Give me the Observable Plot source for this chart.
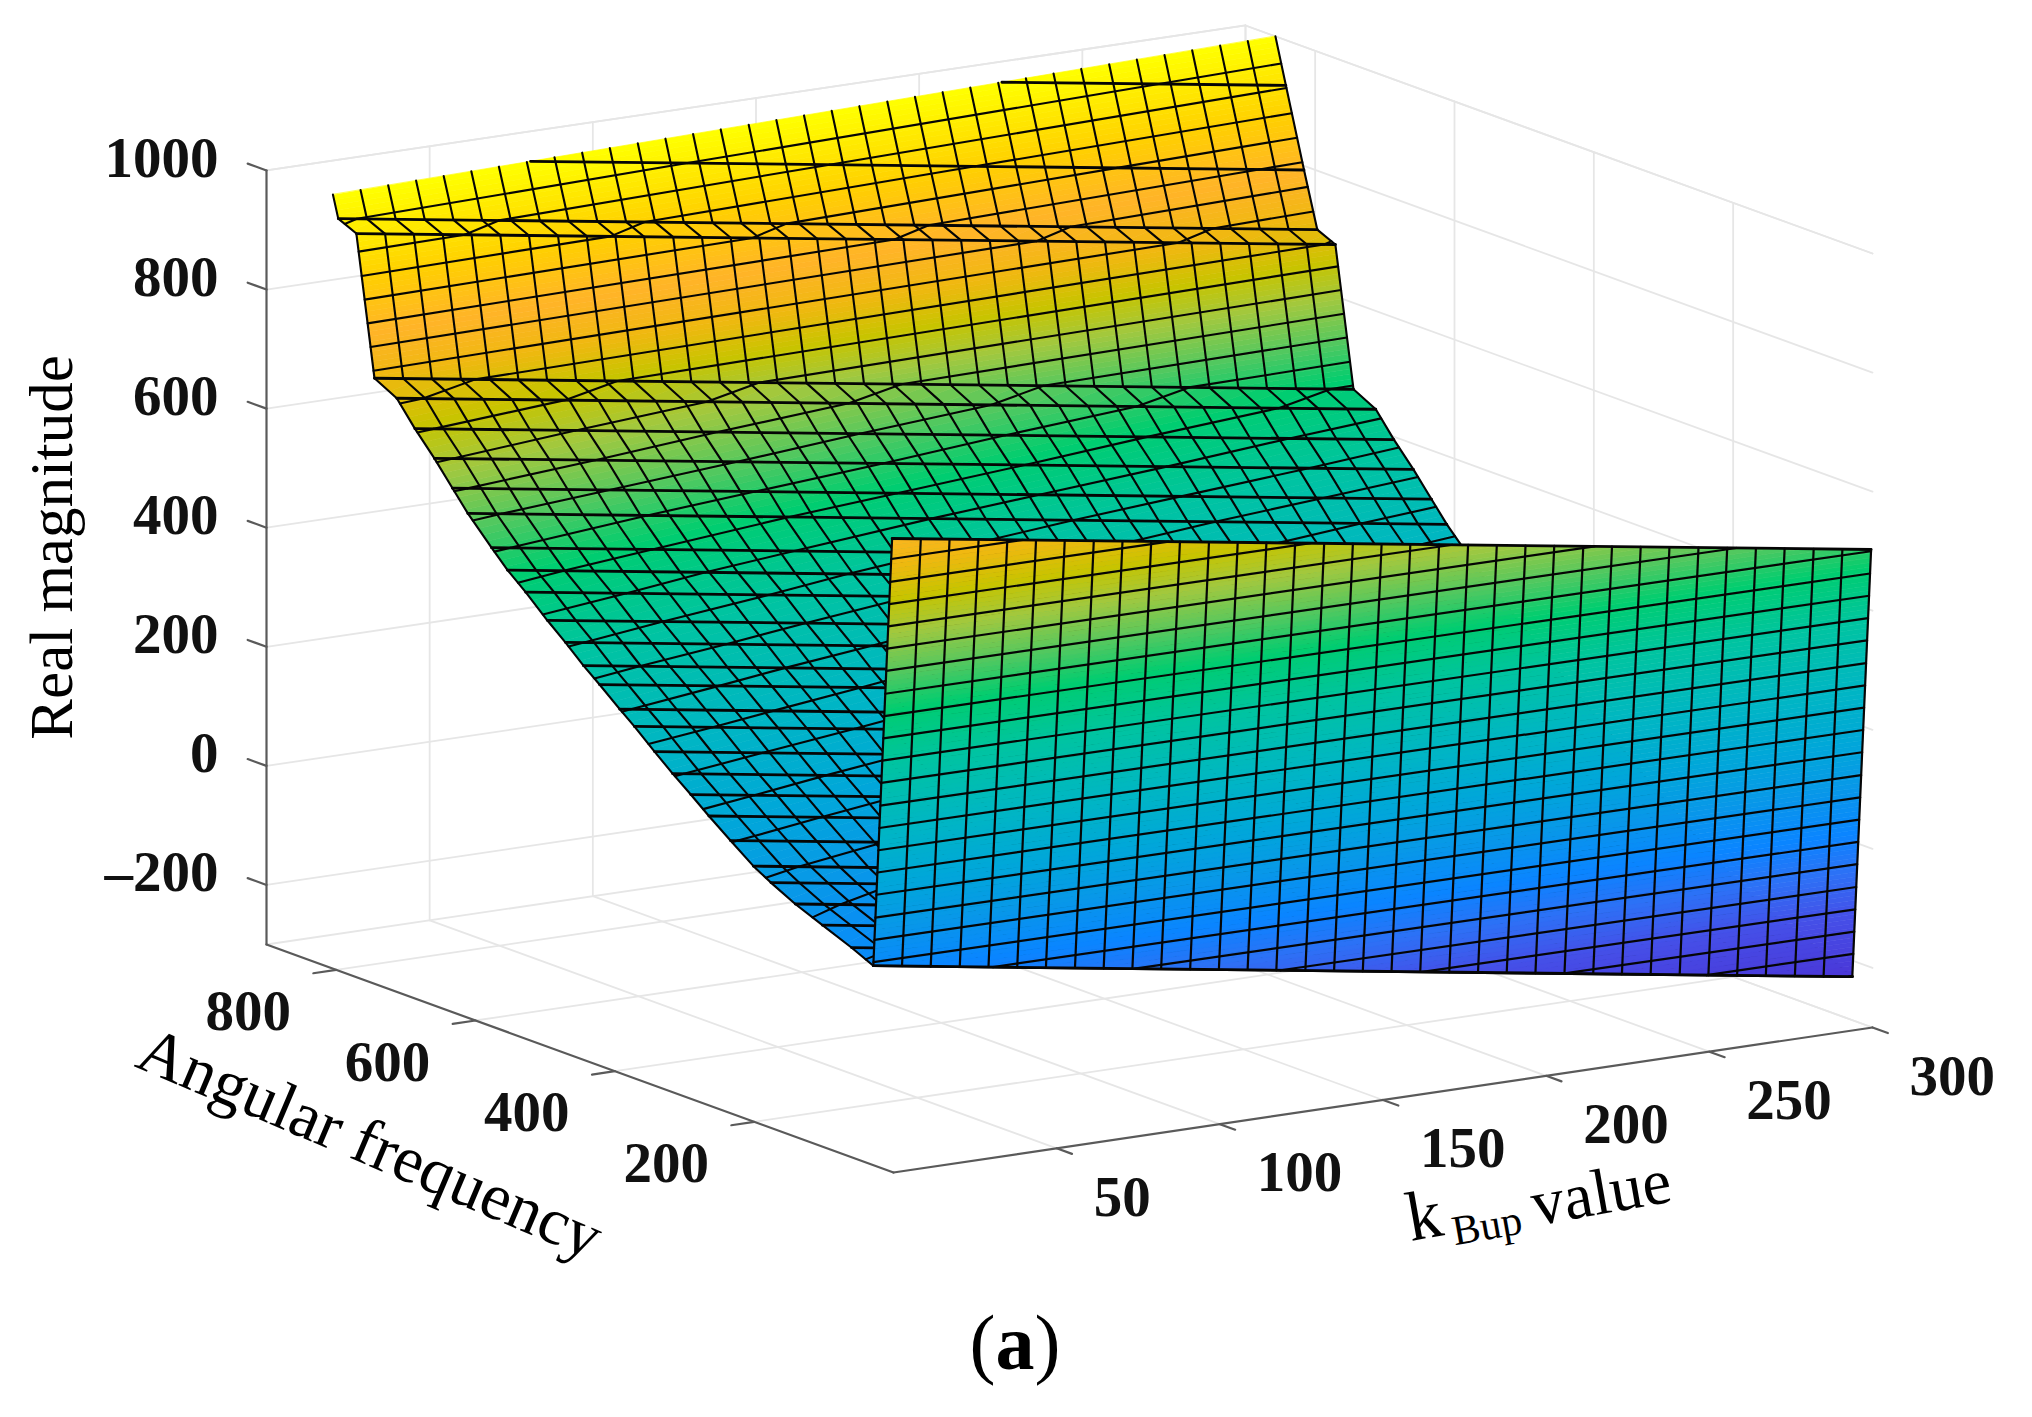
<!DOCTYPE html>
<html><head><meta charset="utf-8">
<script src="https://cdn.jsdelivr.net/npm/d3@7"></script>
<script src="https://cdn.jsdelivr.net/npm/@observablehq/plot@0.6"></script>
<style>
html,body{margin:0;background:#fff}
#chart{position:relative;width:2032px;height:1417px;overflow:hidden}
#chart svg{display:block;background:#fff}
#cap{position:absolute;left:0;width:2030px;top:1301px;text-align:center;font:78px "Liberation Serif",serif;color:#000;line-height:84px}
</style></head><body>
<div id="chart"><div id="cap">(<b>a</b>)</div></div>
<script>
// Tick values
const kTicks = [50,100,150,200,250,300];
const wTicks = [200,400,600,800];
const zTicks = [-200,0,200,400,600,800,1000];
const zTickText = ["\u2013200","0","200","400","600","800","1000"];
const kLimits = [0,300], wLimits = [0,900], zLimits = [-300,1000];

// Mesh: k columns
const kColumns = [0,8.8,17.6,26.5,35.3,44.1,52.9,61.8,70.6,79.4,88.2,97.1,105.9,114.7,123.5,132.4,141.2,150,158.8,167.6,176.5,185.3,194.1,202.9,211.8,220.6,229.4,238.2,247.1,255.9,264.7,273.5,282.4,291.2,300];
// Surface rows: angular frequency and magnitude at k = 0
const wRows = [860,842,816,797,771,745,713,687,659,633,611,577,554,528,497,471,445,422,393,372,343,317,291,265,234,201,176,141,102,60,29];
const zRows = [1277,1186,1055,963,949,717,697,657,619,580,547,504,476,450,416,390,362,340,311,291,261,235,211,186,158,129,112,91,72,52,35];
// Low-frequency wall
const wWall = [29,2];
const zWall = [35,764];
// Fall of the magnitude from k = 0 to k = 300 on every row
const zFall = 262;
// Constant-magnitude mesh lines
const zContours = [1000,958,920,881,843,805,767,729,690,652,614,576,538,499,461,423,385,347,308,270,232,194,156,117,79,41,3,-35,-74,-112,-150,-188,-226];

// Colour map
const colorDomain = [-300,-220,-120,-50,20,100,180,280,380,470,530,600,660,720,790,880,960,1000];
const colorRange = ["#4a30c8","#4a38d8","#4550e8","#2e70f5","#0a85ff","#0898e8","#00a8d8","#00b8c0","#00c4a0","#00cd70","#50c860","#a0c840","#c8c400","#f0b810","#ffb428","#ffd000","#fff000","#ffff00"];

// Camera of the 3-D box
const cam = {x0:893,y0:1172,kx:979/300,ky:-145/300,wx:-627/900,wy:-228/900,zy:-0.5954};
const proj = (k,w,z) => [cam.x0+cam.kx*k+cam.wx*w, cam.y0+cam.ky*k+cam.wy*w+cam.zy*(z-zLimits[0])];
const P = (k,w,z,extra={}) => { const [x,y]=proj(k,w,z); return {x,y,...extra}; };

const zAt = (z0,k) => z0 - zFall*k/300;
const lerpV = (a,b,t) => ({k:a.k+(b.k-a.k)*t,w:a.w+(b.w-a.w)*t,z:a.z+(b.z-a.z)*t});
function clipPoly(poly,level,keepBelow){
  const out=[];
  poly.forEach((a,i)=>{
    const b=poly[(i+1)%poly.length];
    const ina=keepBelow? a.z<=level : a.z>=level;
    const inb=keepBelow? b.z<=level : b.z>=level;
    if(ina) out.push(a);
    if(ina!==inb) out.push(lerpV(a,b,(level-a.z)/(b.z-a.z)));
  });
  return out;
}
function clipSeg(a,b,top){
  if(a.z>top&&b.z>top) return null;
  if(a.z>top) a=lerpV(a,b,(top-a.z)/(b.z-a.z));
  if(b.z>top) b=lerpV(a,b,(top-a.z)/(b.z-a.z));
  return [a,b];
}
function build(ws,zs){
  const fills=[],lines=[];
  let id=0;
  const top=zLimits[1];
  const seg=(a,b,wgt)=>{const s=clipSeg(a,b,top); if(s){const g=id++; s.forEach(v=>lines.push(P(v.k,v.w,v.z,{g,wgt})));}};
  for(let i=0;i<ws.length;i++){
    seg({k:0,w:ws[i],z:zs[i]},{k:300,w:ws[i],z:zAt(zs[i],300)},"row");
  }
  for(let i=0;i+1<ws.length;i++){
    const corners=[{k:0,w:ws[i],z:zs[i]},{k:300,w:ws[i],z:zAt(zs[i],300)},{k:300,w:ws[i+1],z:zAt(zs[i+1],300)},{k:0,w:ws[i+1],z:zs[i+1]}];
    const poly=clipPoly(corners,top,true);
    if(poly.length<3) continue;
    const lo=d3.min(poly,d=>d.z),hi=d3.max(poly,d=>d.z);
    for(let b=Math.floor(lo/8)*8;b<hi;b+=8){
      const p=clipPoly(clipPoly(poly,b+8,true),b,false);
      if(p.length<3) continue;
      const ring=p.map(v=>proj(v.k,v.w,v.z));
      ring.push(ring[0]);
      fills.push({type:"Feature",properties:{z:b+4},geometry:{type:"Polygon",coordinates:[ring]}});
    }
    for(const kc of kColumns){
      seg({k:kc,w:ws[i],z:zAt(zs[i],kc)},{k:kc,w:ws[i+1],z:zAt(zs[i+1],kc)},"col");
    }
    for(const lv of zContours){
      const c=[];
      poly.forEach((a,j)=>{const e=poly[(j+1)%poly.length];
        if((a.z-lv)*(e.z-lv)<0||(a.z===lv&&e.z!==lv)) c.push(lerpV(a,e,(lv-a.z)/(e.z-a.z)));});
      if(c.length>=2){const g=id++; [c[0],c[1]].forEach(v=>lines.push(P(v.k,v.w,v.z,{g,wgt:"col"})));}
    }
  }
  return {fills,lines};
}
const back=build(wRows,zRows);
const wall=build(wWall,zWall);

// Grid and axes
const grid=[]; let gid=0;
const gl=(a,b)=>{const g=gid++; grid.push(P(...a,{g}),P(...b,{g}));};
const [k0,k1]=kLimits,[w0,w1]=wLimits,[z0,z1]=zLimits;
for(const k of kTicks){gl([k,w0,z0],[k,w1,z0]);gl([k,w1,z0],[k,w1,z1]);}
for(const w of wTicks){gl([k0,w,z0],[k1,w,z0]);gl([k1,w,z0],[k1,w,z1]);}
for(const z of zTicks){gl([k0,w1,z],[k1,w1,z]);gl([k1,w1,z],[k1,w0,z]);}
gl([k0,w1,z1],[k1,w1,z1]);gl([k1,w1,z1],[k1,w0,z1]);gl([k1,w1,z0],[k1,w1,z1]);
gl([k0,w1,z0],[k1,w1,z0]);gl([k1,w1,z0],[k1,w0,z0]);

const axis=[]; let aid=0;
const al=(a,b)=>{const g=aid++; axis.push(P(...a,{g}),P(...b,{g}));};
al([k0,w1,z0],[k0,w1,z1]);al([k0,w1,z0],[k0,w0,z0]);al([k0,w0,z0],[k1,w0,z0]);
for(const k of kTicks) al([k,w0,z0],[k,-22,z0]);
for(const w of wTicks) al([k0,w,z0],[-7,w,z0]);
for(const z of [...zTicks]) al([k0,w1,z],[k0,w1+27,z]);

const serif="Liberation Serif";
const kLab=kTicks.map(k=>P(k,w0,z0,{t:String(k)}));
const wLab=wTicks.map(w=>P(k0,w,z0,{t:String(w)}));
const zLab=zTicks.map((z,i)=>P(k0,w1,z,{t:zTickText[i]}));
const tick={x:"x",y:"y",text:"t",fontFamily:serif,fontWeight:"bold",fontSize:57,fill:"#111"};
const title={x:"x",y:"y",text:"t",fontFamily:serif,fill:"#000"};
const lineOpt=(w,wgt)=>({x:"x",y:"y",z:"g",stroke:"#050505",strokeWidth:w,curve:"linear",filter:d=>d.wgt===wgt});

const plot=Plot.plot({
  width:2032,height:1300,margin:0,
  projection:d3.geoIdentity(),
  color:{type:"linear",domain:colorDomain,range:colorRange,clamp:true},
  marks:[
    Plot.line(grid,{x:"x",y:"y",z:"g",stroke:"#e6e6e6",strokeWidth:1.8,curve:"linear"}),
    Plot.line(axis,{x:"x",y:"y",z:"g",stroke:"#5a5a5a",strokeWidth:2.2,curve:"linear"}),
    Plot.geo(back.fills,{fill:d=>d.properties.z,stroke:d=>d.properties.z,strokeWidth:0.7}),
    Plot.line(back.lines,lineOpt(2.1,"col")),
    Plot.line(back.lines,lineOpt(2.8,"row")),
    Plot.geo(wall.fills,{fill:d=>d.properties.z,stroke:d=>d.properties.z,strokeWidth:0.7}),
    Plot.line(wall.lines,lineOpt(2.2,"col")),
    Plot.line(wall.lines,lineOpt(2.8,"row")),
    Plot.text(zLab,{...tick,textAnchor:"end",dx:-48,dy:-12}),
    Plot.text(wLab,{...tick,textAnchor:"middle",dx:-88,dy:42}),
    Plot.text(kLab,{...tick,textAnchor:"start",dx:37,dy:49}),
    Plot.text([P(k0,w1,367,{t:"Real magnitude"})],{...title,fontSize:61,rotate:-90,dx:-214}),
    Plot.text([P(k0,450,z0,{t:"Angular frequency"})],{...title,fontSize:66,rotate:23,dx:-210,dy:85}),
    Plot.text([P(150,w0,z0,{t:"k"})],{...title,fontSize:70,rotate:-10,dx:41,dy:116}),
    Plot.text([P(150,w0,z0,{t:"Bup"})],{...title,fontSize:42,rotate:-10,dx:104,dy:126}),
    Plot.text([P(150,w0,z0,{t:"value"})],{...title,fontSize:65,rotate:-10,dx:218,dy:93})
  ]
});
document.getElementById("chart").prepend(plot);
</script>
</body></html>
